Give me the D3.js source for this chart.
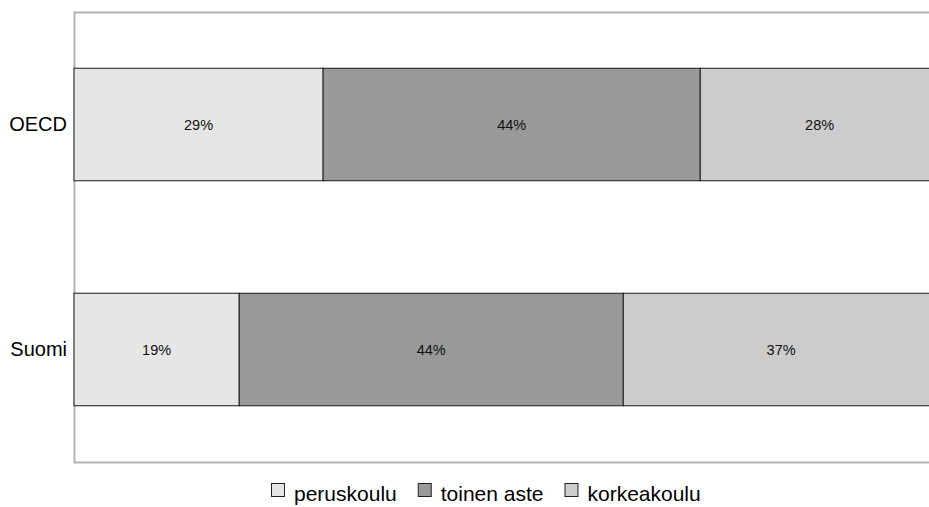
<!DOCTYPE html>
<html>
<head>
<meta charset="utf-8">
<script src="https://cdn.jsdelivr.net/npm/d3@7"></script>
<style>
  body { margin: 0; background: #fff; }
  text { font-family: "Liberation Sans", Arial, sans-serif; }
</style>
</head>
<body>
<script>
// categories and series (percent shares)
var maat = ["OECD", "Suomi"];
var sarjat = ["peruskoulu", "toinen aste", "korkeakoulu"];
var peruskoulu = [28.8, 19.1];
var toinenAste = [43.6, 44.4];
var korkeakoulu = [27.6, 36.5];
var varit = ["#e6e6e6", "#999999", "#cccccc"];

var rows = maat.map(function (m, i) {
    return { maa: m, "peruskoulu": peruskoulu[i], "toinen aste": toinenAste[i], "korkeakoulu": korkeakoulu[i] };
});

const width = 929, height = 507;
const svg = d3.select("body").append("svg")
    .attr("width", width)
    .attr("height", height);

// plot area (right side runs past the window)
const x = d3.scaleLinear().domain([0, 100]).range([74, 939]);
const y = d3.scaleBand().domain(maat).range([12, 462]).paddingInner(0.5).paddingOuter(0.25);

// frame
svg.append("path")
    .attr("d", "M935,12.5H74.5V462.5H935")
    .attr("fill", "none")
    .attr("stroke", "#b3b3b3")
    .attr("stroke-width", 2);

const stack = d3.stack().keys(sarjat)(rows);
const fmt = d3.format(".0f");

stack.forEach(function (s, k) {
    const g = svg.append("g");
    g.selectAll("rect")
        .data(s)
        .enter()
        .append("rect")
        .attr("x", d => x(d[0]))
        .attr("y", d => y(d.data.maa))
        .attr("width", d => x(d[1]) - x(d[0]))
        .attr("height", y.bandwidth())
        .attr("fill", varit[k])
        .attr("stroke", "#1a1a1a")
        .attr("stroke-width", 1);
    g.selectAll("text")
        .data(s)
        .enter()
        .append("text")
        .attr("x", d => (x(d[0]) + x(d[1])) / 2)
        .attr("y", d => y(d.data.maa) + y.bandwidth() / 2)
        .attr("dy", "0.35em")
        .attr("text-anchor", "middle")
        .attr("font-size", 14.5)
        .attr("fill", "#111")
        .text(d => fmt(d[1] - d[0]) + "%");
});

// y axis labels
const yAxis = d3.axisLeft(y).tickSize(0).tickPadding(7);
const ya = svg.append("g").attr("transform", "translate(74,0)").call(yAxis);
ya.select(".domain").remove();
ya.selectAll("text")
    .attr("font-size", 20)
    .attr("font-family", "Liberation Sans, Arial, sans-serif")
    .attr("fill", "#000");

// legend
const leg = svg.append("g").attr("transform", "translate(271,0)");
var lx = 0;
sarjat.forEach(function (s, k) {
    leg.append("rect")
        .attr("x", lx + 0.5)
        .attr("y", 483.5)
        .attr("width", 13)
        .attr("height", 13)
        .attr("fill", varit[k])
        .attr("stroke", "#222")
        .attr("stroke-width", 1);
    const t = leg.append("text")
        .attr("x", lx + 23)
        .attr("y", 501)
        .attr("font-size", 21)
        .attr("fill", "#000")
        .text(s);
    lx += 23 + t.node().getComputedTextLength() + 21;
});
</script>
</body>
</html>
